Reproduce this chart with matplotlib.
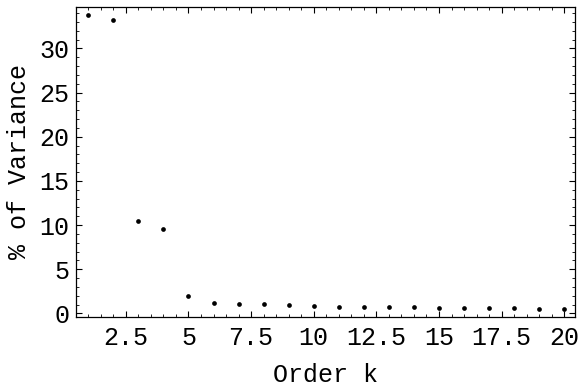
import numpy as np
import matplotlib.pyplot as plt
from matplotlib.ticker import MultipleLocator

# Percentage of variance explained by each order
order_k = list(range(1, 21))
pct_variance = [33.8, 33.2, 10.45, 9.5, 2.0, 1.13, 1.09, 1.02, 0.9, 0.83,
                0.75, 0.71, 0.68, 0.68, 0.64, 0.6, 0.57, 0.57, 0.45, 0.45]

x_ticks = [2.5, 5, 7.5, 10, 12.5, 15, 17.5, 20]
x_tick_labels = ['2.5', '5', '7.5', '10', '12.5', '15', '17.5', '20']
y_ticks = [0, 5, 10, 15, 20, 25, 30]

plt.rcParams['font.family'] = ['Liberation Mono', 'DejaVu Sans Mono']

fig = plt.figure(figsize=(5.79, 3.92), dpi=100)
ax = fig.add_axes([76 / 579, 1 - 316.7 / 392, (575 - 76) / 579, (316.7 - 7) / 392])

ax.plot(order_k, pct_variance, 'o', color='black', markersize=3.4, markeredgewidth=0)

ax.set_xlim(0.51, 20.43)
ax.set_ylim(-0.38, 34.7)
ax.set_xticks(x_ticks)
ax.set_xticklabels(x_tick_labels)
ax.set_yticks(y_ticks)
ax.xaxis.set_minor_locator(MultipleLocator(0.5))
ax.yaxis.set_minor_locator(MultipleLocator(1))

ax.tick_params(which='both', direction='in', top=True, right=True,
               width=0.8, labelsize=18)
ax.tick_params(axis='x', pad=7)
ax.tick_params(axis='y', pad=5)
ax.tick_params(which='major', length=4)
ax.tick_params(which='minor', length=2, width=0.6)
for s in ax.spines.values():
    s.set_linewidth(0.9)

ax.set_xlabel('Order k', fontsize=18, labelpad=9)
ax.set_ylabel('% of Variance', fontsize=18, labelpad=6)

fig.savefig('out.png', dpi=100)
